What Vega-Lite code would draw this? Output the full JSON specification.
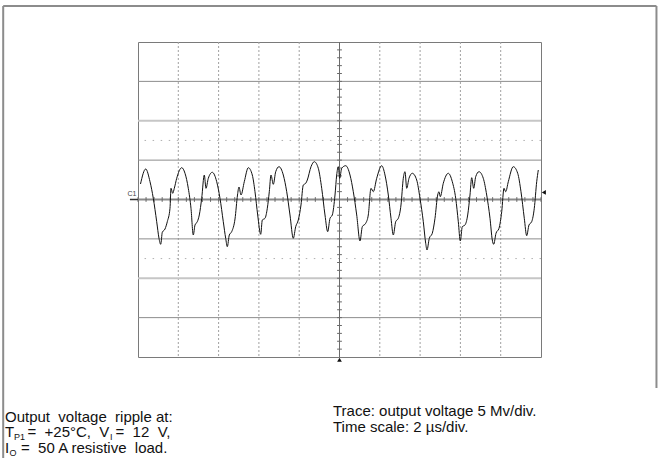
{
  "$schema": "https://vega.github.io/schema/vega-lite/v6.json",
  "width": 403,
  "height": 315,
  "autosize": {"type": "none"},
  "padding": {"left": 138, "top": 42, "right": 118, "bottom": 101},
  "background": "white",
  "config": {"view": {"stroke": "#7a7a7a", "strokeWidth": 1}},
  "datasets": {
    "trace": [
      {"t": -9.876, "v": 1.968}, {"t": -9.618, "v": 3.873}, {"t": -9.404, "v": 2.26}, {"t": -9.241, "v": 0.152},
      {"t": -9.072, "v": -2.819}, {"t": -8.958, "v": -4.927}, {"t": -8.873, "v": -5.689}, {"t": -8.794, "v": -4.165},
      {"t": -8.66, "v": -3.746}, {"t": -8.546, "v": -2.819}, {"t": -8.412, "v": -1.117}, {"t": -8.362, "v": 1.422},
      {"t": -8.278, "v": 0.787}, {"t": -8.198, "v": 1.422}, {"t": -8.079, "v": 2.692}, {"t": -7.831, "v": 4.038},
      {"t": -7.667, "v": 3.327}, {"t": -7.504, "v": 1.422}, {"t": -7.37, "v": -1.117}, {"t": -7.256, "v": -4.508},
      {"t": -7.171, "v": -3.238}, {"t": -7.057, "v": -2.819}, {"t": -6.958, "v": -1.968}, {"t": -6.839, "v": 0.152},
      {"t": -6.71, "v": 3.111}, {"t": -6.625, "v": 1.422}, {"t": -6.511, "v": 2.692}, {"t": -6.313, "v": 3.454},
      {"t": -6.094, "v": 2.26}, {"t": -5.931, "v": 0.152}, {"t": -5.767, "v": -2.819}, {"t": -5.648, "v": -4.927},
      {"t": -5.568, "v": -5.994}, {"t": -5.469, "v": -4.508}, {"t": -5.35, "v": -4.089}, {"t": -5.186, "v": -2.476},
      {"t": -5.062, "v": 0.571}, {"t": -4.988, "v": 1.587}, {"t": -4.888, "v": 0.571}, {"t": -4.725, "v": 2.26},
      {"t": -4.526, "v": 4.038}, {"t": -4.328, "v": 3.111}, {"t": -4.194, "v": 0.99}, {"t": -4.06, "v": -1.968},
      {"t": -3.911, "v": -4.419}, {"t": -3.831, "v": -2.603}, {"t": -3.697, "v": -2.387}, {"t": -3.583, "v": -1.117},
      {"t": -3.484, "v": 0.99}, {"t": -3.4, "v": 3.111}, {"t": -3.285, "v": 1.93}, {"t": -3.166, "v": 3.53},
      {"t": -3.002, "v": 4.165}, {"t": -2.789, "v": 3.111}, {"t": -2.62, "v": 0.99}, {"t": -2.457, "v": -1.968},
      {"t": -2.293, "v": -4.927}, {"t": -2.174, "v": -3.454}, {"t": -2.045, "v": -2.603}, {"t": -1.911, "v": -0.698},
      {"t": -1.797, "v": 1.841}, {"t": -1.677, "v": 2.057}, {"t": -1.598, "v": 2.476}, {"t": -1.414, "v": 4.165},
      {"t": -1.251, "v": 4.8}, {"t": -1.052, "v": 3.962}, {"t": -0.883, "v": 1.422}, {"t": -0.72, "v": -1.968},
      {"t": -0.586, "v": -4.089}, {"t": -0.471, "v": -2.387}, {"t": -0.357, "v": -1.968}, {"t": -0.223, "v": 0.571},
      {"t": -0.139, "v": 3.111}, {"t": -0.06, "v": 4.165}, {"t": 0.01, "v": 2.692}, {"t": 0.109, "v": 3.962},
      {"t": 0.308, "v": 4.292}, {"t": 0.521, "v": 3.111}, {"t": 0.685, "v": 0.99}, {"t": 0.854, "v": -1.968},
      {"t": 1.017, "v": -5.27}, {"t": 1.132, "v": -3.454}, {"t": 1.3, "v": -3.022}, {"t": 1.429, "v": -1.968},
      {"t": 1.563, "v": 1.422}, {"t": 1.677, "v": 0.99}, {"t": 1.846, "v": 2.692}, {"t": 2.094, "v": 4.292},
      {"t": 2.258, "v": 3.111}, {"t": 2.422, "v": 0.571}, {"t": 2.556, "v": -2.387}, {"t": 2.67, "v": -4.508},
      {"t": 2.789, "v": -2.819}, {"t": 2.918, "v": -2.387}, {"t": 3.052, "v": -0.698}, {"t": 3.166, "v": 2.692},
      {"t": 3.251, "v": 3.53}, {"t": 3.335, "v": 1.422}, {"t": 3.449, "v": 2.692}, {"t": 3.613, "v": 3.327},
      {"t": 3.831, "v": 2.476}, {"t": 3.995, "v": 0.152}, {"t": 4.159, "v": -2.819}, {"t": 4.278, "v": -5.562},
      {"t": 4.342, "v": -6.413}, {"t": 4.457, "v": -4.927}, {"t": 4.605, "v": -4.292}, {"t": 4.739, "v": -2.387},
      {"t": 4.873, "v": 0.571}, {"t": 4.938, "v": 0.99}, {"t": 5.002, "v": 0.356}, {"t": 5.151, "v": 2.057},
      {"t": 5.4, "v": 3.327}, {"t": 5.598, "v": 2.26}, {"t": 5.767, "v": 0.152}, {"t": 5.896, "v": -2.819},
      {"t": 5.995, "v": -5.27}, {"t": 6.094, "v": -3.454}, {"t": 6.228, "v": -3.238}, {"t": 6.362, "v": -1.968},
      {"t": 6.476, "v": 0.571}, {"t": 6.561, "v": 2.768}, {"t": 6.66, "v": 1.422}, {"t": 6.759, "v": 2.895},
      {"t": 6.923, "v": 3.53}, {"t": 7.136, "v": 2.692}, {"t": 7.305, "v": 0.571}, {"t": 7.469, "v": -2.387},
      {"t": 7.583, "v": -5.143}, {"t": 7.653, "v": -5.689}, {"t": 7.767, "v": -4.292}, {"t": 7.916, "v": -3.657},
      {"t": 8.05, "v": -1.549}, {"t": 8.164, "v": 1.422}, {"t": 8.248, "v": 0.99}, {"t": 8.377, "v": 2.26},
      {"t": 8.625, "v": 4.165}, {"t": 8.844, "v": 3.327}, {"t": 9.007, "v": 0.99}, {"t": 9.171, "v": -2.387},
      {"t": 9.29, "v": -4.597}, {"t": 9.404, "v": -3.238}, {"t": 9.538, "v": -2.819}, {"t": 9.667, "v": -1.117},
      {"t": 9.787, "v": 2.26}, {"t": 9.866, "v": 3.746}
    ],
    "vgrid": [{"t": -8}, {"t": -6}, {"t": -4}, {"t": -2}, {"t": 2}, {"t": 4}, {"t": 6}, {"t": 8}],
    "hgridDark": [{"v": -15}, {"v": -5}, {"v": 5}, {"v": 15}],
    "hgridLight": [{"v": -10}, {"v": 10}],
    "dotRows": [{"v": -7.5}, {"v": 7.5}],
    "xTicks": [
      {"t": -10}, {"t": -9.6}, {"t": -9.2}, {"t": -8.8}, {"t": -8.4}, {"t": -8}, {"t": -7.6}, {"t": -7.2}, {"t": -6.8}, {"t": -6.4},
      {"t": -6}, {"t": -5.6}, {"t": -5.2}, {"t": -4.8}, {"t": -4.4}, {"t": -4}, {"t": -3.6}, {"t": -3.2}, {"t": -2.8}, {"t": -2.4},
      {"t": -2}, {"t": -1.6}, {"t": -1.2}, {"t": -0.8}, {"t": -0.4}, {"t": 0.4}, {"t": 0.8}, {"t": 1.2}, {"t": 1.6},
      {"t": 2}, {"t": 2.4}, {"t": 2.8}, {"t": 3.2}, {"t": 3.6}, {"t": 4}, {"t": 4.4}, {"t": 4.8}, {"t": 5.2}, {"t": 5.6},
      {"t": 6}, {"t": 6.4}, {"t": 6.8}, {"t": 7.2}, {"t": 7.6}, {"t": 8}, {"t": 8.4}, {"t": 8.8}, {"t": 9.2}, {"t": 9.6}, {"t": 10}
    ],
    "yTicks": [
      {"v": -19}, {"v": -18}, {"v": -17}, {"v": -16}, {"v": -15}, {"v": -14}, {"v": -13}, {"v": -12}, {"v": -11}, {"v": -10},
      {"v": -9}, {"v": -8}, {"v": -7}, {"v": -6}, {"v": -5}, {"v": -4}, {"v": -3}, {"v": -2}, {"v": -1},
      {"v": 1}, {"v": 2}, {"v": 3}, {"v": 4}, {"v": 5}, {"v": 6}, {"v": 7}, {"v": 8}, {"v": 9}, {"v": 10},
      {"v": 11}, {"v": 12}, {"v": 13}, {"v": 14}, {"v": 15}, {"v": 16}, {"v": 17}, {"v": 18}, {"v": 19}
    ],
    "textMain": [
      {"t": -16.6, "v": -28.254, "label": "Output\u00a0 voltage\u00a0 ripple at:"},
      {"t": -16.6, "v": -30.222, "label": "T"},
      {"t": -15.484, "v": -30.222, "label": "=\u00a0 +25°C,\u00a0 V"},
      {"t": -11.116, "v": -30.222, "label": "=\u00a0 12\u00a0 V,"},
      {"t": -16.6, "v": -32.127, "label": "I"},
      {"t": -15.806, "v": -32.127, "label": "=\u00a0 50 A resistive\u00a0 load."},
      {"t": -0.323, "v": -27.492, "label": "Trace: output voltage 5 Mv/div."},
      {"t": -0.323, "v": -29.587, "label": "Time scale: 2 µs/div."}
    ],
    "textSub": [
      {"t": -16.153, "v": -30.603, "label": "P1"},
      {"t": -11.39, "v": -30.603, "label": "I"},
      {"t": -16.377, "v": -32.508, "label": "O"}
    ]
  },
  "layer": [
    {
      "data": {"name": "vgrid"},
      "mark": {"type": "rule", "stroke": "#a0a0a0", "strokeWidth": 1, "strokeDash": [2, 2]},
      "encoding": {"x": {"field": "t", "type": "quantitative", "scale": {"domain": [-10, 10], "nice": false, "zero": false}, "axis": null}}
    },
    {
      "data": {"name": "hgridDark"},
      "mark": {"type": "rule", "stroke": "#8c8c8c", "strokeWidth": 1},
      "encoding": {"y": {"field": "v", "type": "quantitative", "scale": {"domain": [-20, 20], "nice": false, "zero": false}, "axis": null}}
    },
    {
      "data": {"name": "hgridLight"},
      "mark": {"type": "rule", "stroke": "#c6c6c6", "strokeWidth": 2},
      "encoding": {"y": {"field": "v", "type": "quantitative", "scale": {"domain": [-20, 20], "nice": false, "zero": false}, "axis": null}}
    },
    {
      "data": {"name": "dotRows"},
      "mark": {"type": "rule", "stroke": "#b0b0b0", "strokeWidth": 1, "strokeDash": [1.5, 6.56]},
      "encoding": {"y": {"field": "v", "type": "quantitative", "scale": {"domain": [-20, 20], "nice": false, "zero": false}, "axis": null}}
    },
    {
      "data": {"values": [{}]},
      "mark": {"type": "rule", "stroke": "#8a8a8a", "strokeWidth": 2},
      "encoding": {"y": {"datum": 0, "type": "quantitative", "scale": {"domain": [-20, 20], "nice": false, "zero": false}, "axis": null}}
    },
    {
      "data": {"values": [{}]},
      "mark": {"type": "rule", "stroke": "#6a6a6a", "strokeWidth": 1},
      "encoding": {"x": {"datum": 0, "type": "quantitative", "scale": {"domain": [-10, 10], "nice": false, "zero": false}, "axis": null}}
    },
    {
      "data": {"name": "xTicks"},
      "mark": {"type": "rule", "stroke": "#6a6a6a", "strokeWidth": 1},
      "encoding": {
        "x": {"field": "t", "type": "quantitative", "scale": {"domain": [-10, 10], "nice": false, "zero": false}, "axis": null},
        "y": {"datum": -0.3, "type": "quantitative", "scale": {"domain": [-20, 20], "nice": false, "zero": false}, "axis": null},
        "y2": {"datum": 0.3}
      }
    },
    {
      "data": {"name": "yTicks"},
      "mark": {"type": "rule", "stroke": "#6a6a6a", "strokeWidth": 1},
      "encoding": {
        "y": {"field": "v", "type": "quantitative", "scale": {"domain": [-20, 20], "nice": false, "zero": false}, "axis": null},
        "x": {"datum": -0.12, "type": "quantitative", "scale": {"domain": [-10, 10], "nice": false, "zero": false}, "axis": null},
        "x2": {"datum": 0.12}
      }
    },
    {
      "data": {"name": "trace"},
      "mark": {"type": "line", "stroke": "#111111", "strokeWidth": 1, "interpolate": "monotone"},
      "encoding": {
        "x": {"field": "t", "type": "quantitative", "scale": {"domain": [-10, 10], "nice": false, "zero": false}, "axis": null},
        "y": {"field": "v", "type": "quantitative", "scale": {"domain": [-20, 20], "nice": false, "zero": false}, "axis": null}
      }
    },
    {
      "data": {"values": [{}]},
      "mark": {"type": "rule", "stroke": "#333333", "strokeWidth": 1.5},
      "encoding": {
        "x": {"datum": -10.4, "type": "quantitative", "scale": {"domain": [-10, 10], "nice": false, "zero": false}, "axis": null},
        "x2": {"datum": -10.0},
        "y": {"datum": 0, "type": "quantitative", "scale": {"domain": [-20, 20], "nice": false, "zero": false}, "axis": null}
      }
    },
    {
      "data": {"values": [{"label": "C1"}]},
      "mark": {"type": "text", "font": "Liberation Sans", "fontSize": 7, "fill": "#444444", "align": "right", "baseline": "alphabetic"},
      "encoding": {
        "x": {"datum": -10.08, "type": "quantitative", "scale": {"domain": [-10, 10], "nice": false, "zero": false}, "axis": null},
        "y": {"datum": 0.4, "type": "quantitative", "scale": {"domain": [-20, 20], "nice": false, "zero": false}, "axis": null},
        "text": {"field": "label"}
      }
    },
    {
      "data": {"values": [{}]},
      "mark": {"type": "point", "shape": "triangle-left", "filled": true, "fill": "#111111", "size": 22, "opacity": 1},
      "encoding": {
        "x": {"datum": 10.14, "type": "quantitative", "scale": {"domain": [-10, 10], "nice": false, "zero": false}, "axis": null},
        "y": {"datum": 0.9, "type": "quantitative", "scale": {"domain": [-20, 20], "nice": false, "zero": false}, "axis": null}
      }
    },
    {
      "data": {"values": [{}]},
      "mark": {"type": "point", "shape": "triangle-up", "filled": true, "fill": "#111111", "size": 22, "opacity": 1},
      "encoding": {
        "x": {"datum": 0, "type": "quantitative", "scale": {"domain": [-10, 10], "nice": false, "zero": false}, "axis": null},
        "y": {"datum": -20.35, "type": "quantitative", "scale": {"domain": [-20, 20], "nice": false, "zero": false}, "axis": null}
      }
    },
    {
      "data": {"values": [{}]},
      "mark": {"type": "rule", "stroke": "#8c8c8c", "strokeWidth": 2},
      "encoding": {
        "x": {"datum": -16.69, "type": "quantitative", "scale": {"domain": [-10, 10], "nice": false, "zero": false}, "axis": null},
        "y": {"datum": 24.57, "type": "quantitative", "scale": {"domain": [-20, 20], "nice": false, "zero": false}, "axis": null},
        "y2": {"datum": -33}
      }
    },
    {
      "data": {"values": [{}]},
      "mark": {"type": "rule", "stroke": "#8c8c8c", "strokeWidth": 2},
      "encoding": {
        "x": {"datum": -16.69, "type": "quantitative", "scale": {"domain": [-10, 10], "nice": false, "zero": false}, "axis": null},
        "x2": {"datum": 15.73},
        "y": {"datum": 24.57, "type": "quantitative", "scale": {"domain": [-20, 20], "nice": false, "zero": false}, "axis": null}
      }
    },
    {
      "data": {"values": [{}]},
      "mark": {"type": "rule", "stroke": "#8c8c8c", "strokeWidth": 2},
      "encoding": {
        "x": {"datum": 15.73, "type": "quantitative", "scale": {"domain": [-10, 10], "nice": false, "zero": false}, "axis": null},
        "y": {"datum": 24.57, "type": "quantitative", "scale": {"domain": [-20, 20], "nice": false, "zero": false}, "axis": null},
        "y2": {"datum": -23.94}
      }
    },
    {
      "data": {"name": "textMain"},
      "mark": {"type": "text", "font": "Liberation Sans", "fontSize": 15, "fill": "#111111", "align": "left", "baseline": "alphabetic"},
      "encoding": {
        "x": {"field": "t", "type": "quantitative", "scale": {"domain": [-10, 10], "nice": false, "zero": false}, "axis": null},
        "y": {"field": "v", "type": "quantitative", "scale": {"domain": [-20, 20], "nice": false, "zero": false}, "axis": null},
        "text": {"field": "label"}
      }
    },
    {
      "data": {"name": "textSub"},
      "mark": {"type": "text", "font": "Liberation Sans", "fontSize": 9, "fill": "#111111", "align": "left", "baseline": "alphabetic"},
      "encoding": {
        "x": {"field": "t", "type": "quantitative", "scale": {"domain": [-10, 10], "nice": false, "zero": false}, "axis": null},
        "y": {"field": "v", "type": "quantitative", "scale": {"domain": [-20, 20], "nice": false, "zero": false}, "axis": null},
        "text": {"field": "label"}
      }
    }
  ]
}
